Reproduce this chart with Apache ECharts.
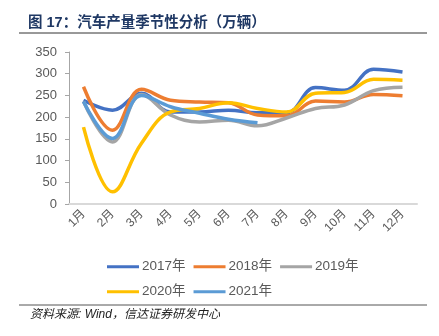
<!DOCTYPE html>
<html><head><meta charset="utf-8">
<script src="https://cdn.jsdelivr.net/npm/echarts@6/dist/echarts.min.js"></script>
<style>html,body{margin:0;padding:0;background:#fff}#c{width:439px;height:336px}</style>
</head><body><div id="c"></div>
<script>
const categories = ['1月','2月','3月','4月','5月','6月','7月','8月','9月','10月','11月','12月'];
const y2017 = [239,216,255,212,212,216,210,210,268,262,310,304];
const y2018 = [270,170,264,239,235,233,205,203,237,235,252,249];
const y2019 = [236,143,252,205,189,193,180,198,220,228,261,269];
const y2020 = [177,28,140,212,220,233,220,212,255,257,287,285];
const y2021 = [236,151,250,224,209,195,187];
const yTicks = [0,50,100,150,200,250,300,350];
const seriesNames = ['2017年','2018年','2019年','2020年','2021年'];
const colors = ['#4472C4','#ED7D31','#A5A5A5','#FFC000','#5B9BD5'];
const allData = [y2017,y2018,y2019,y2020,y2021];

const font = "'Liberation Sans','Noto Sans CJK SC',sans-serif";
const chart = echarts.init(document.getElementById('c'));
chart.setOption({
  animation:false,
  grid:{left:69,right:22,top:52,bottom:132},
  xAxis:{type:'category',data:categories,boundaryGap:true,
    axisLine:{lineStyle:{color:'#D9D9D9',width:2}},
    axisTick:{show:false},
    axisLabel:{rotate:45,color:'#595959',fontSize:12,fontFamily:font,margin:8,interval:0}},
  yAxis:{type:'value',min:yTicks[0],max:yTicks[yTicks.length-1],interval:50,
    axisLine:{show:true,lineStyle:{color:'#A6A6A6',width:1}},
    axisTick:{show:true,length:4,lineStyle:{color:'#A6A6A6'}},
    splitLine:{show:false},
    axisLabel:{color:'#595959',fontSize:13,fontFamily:font,margin:12}},
  legend:[
    {data:seriesNames.slice(0,3),left:102,top:255,itemWidth:32,itemHeight:3,itemGap:8,icon:'rect',
     textStyle:{color:'#595959',fontSize:13.5,fontFamily:font,padding:[0,0,0,-2]}},
    {data:seriesNames.slice(3),left:102,top:280,itemWidth:32,itemHeight:3,itemGap:8,icon:'rect',
     textStyle:{color:'#595959',fontSize:13.5,fontFamily:font,padding:[0,0,0,-2]}}
  ],
  series:allData.map((d,i)=>({name:seriesNames[i],type:'line',data:d,smooth:0.4,symbol:'none',
    lineStyle:{color:colors[i],width:3.5},itemStyle:{color:colors[i]}})),
  graphic:[
    {type:'text',left:28,top:16,style:{text:'图 17：汽车产量季节性分析（万辆）',fill:'#1F3864',
      font:"bold 14.5px 'Liberation Sans','Noto Sans CJK SC',sans-serif"}},
    {type:'line',shape:{x1:19,y1:33,x2:427,y2:33},style:{stroke:'#333',lineWidth:1}},
    {type:'line',shape:{x1:19,y1:305,x2:427,y2:305},style:{stroke:'#555',lineWidth:1}},
    {type:'text',left:30,top:309,style:{text:'资料来源: Wind，信达证券研发中心',fill:'#222',
      font:"italic 12px 'Liberation Sans','Noto Sans CJK SC',sans-serif"}}
  ]
});
</script></body></html>
